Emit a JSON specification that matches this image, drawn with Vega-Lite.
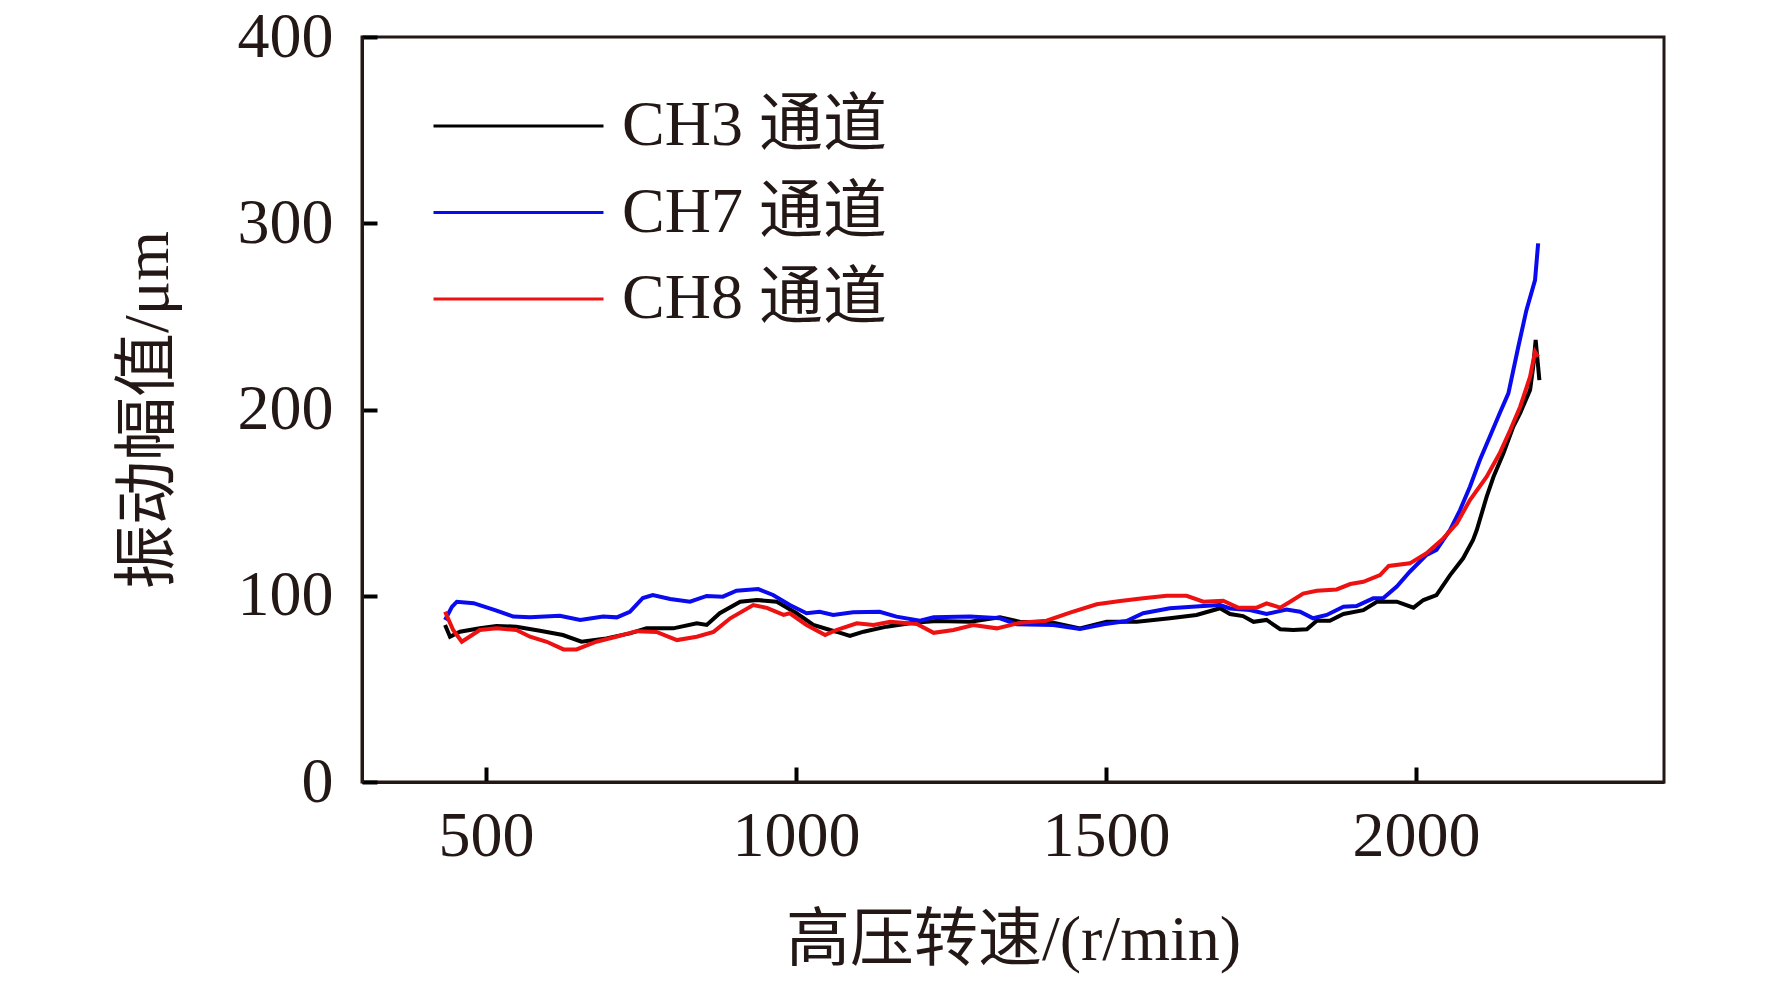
{
  "$schema": "https://vega.github.io/schema/vega-lite/v6.json",
  "autosize": {"type": "none"},
  "padding": {"left": 362, "top": 37, "right": 108, "bottom": 201},
  "width": 1302,
  "height": 745,
  "background": "white",
  "datasets": {
    "ch3": [
      {"rpm": 434, "amp": 84.3}, {"rpm": 442, "amp": 78}, {"rpm": 458, "amp": 80.7}, {"rpm": 490, "amp": 82.5},
      {"rpm": 517, "amp": 83.8}, {"rpm": 549, "amp": 83.4}, {"rpm": 587, "amp": 81.2}, {"rpm": 624, "amp": 78.9},
      {"rpm": 654, "amp": 75.3}, {"rpm": 694, "amp": 77.1}, {"rpm": 732, "amp": 79.8}, {"rpm": 759, "amp": 82.5},
      {"rpm": 802, "amp": 82.5}, {"rpm": 840, "amp": 85.2}, {"rpm": 856, "amp": 84.3}, {"rpm": 877, "amp": 90.6},
      {"rpm": 910, "amp": 96.8}, {"rpm": 937, "amp": 97.7}, {"rpm": 969, "amp": 96.8}, {"rpm": 1001, "amp": 90.6},
      {"rpm": 1028, "amp": 84.3}, {"rpm": 1055, "amp": 81.6}, {"rpm": 1065, "amp": 80.7}, {"rpm": 1087, "amp": 78.4},
      {"rpm": 1109, "amp": 80.7}, {"rpm": 1146, "amp": 83.4}, {"rpm": 1189, "amp": 85.5}, {"rpm": 1227, "amp": 86.4},
      {"rpm": 1281, "amp": 86}, {"rpm": 1329, "amp": 88.4}, {"rpm": 1361, "amp": 86}, {"rpm": 1415, "amp": 85.5},
      {"rpm": 1458, "amp": 82.5}, {"rpm": 1501, "amp": 86}, {"rpm": 1550, "amp": 86}, {"rpm": 1603, "amp": 87.9},
      {"rpm": 1646, "amp": 89.7}, {"rpm": 1684, "amp": 93.3}, {"rpm": 1700, "amp": 90.2}, {"rpm": 1721, "amp": 89.1},
      {"rpm": 1738, "amp": 86}, {"rpm": 1759, "amp": 87}, {"rpm": 1781, "amp": 82}, {"rpm": 1802, "amp": 81.6},
      {"rpm": 1824, "amp": 82}, {"rpm": 1840, "amp": 86.6}, {"rpm": 1861, "amp": 86.6}, {"rpm": 1883, "amp": 90.2},
      {"rpm": 1915, "amp": 92.3}, {"rpm": 1937, "amp": 96.8}, {"rpm": 1969, "amp": 96.8}, {"rpm": 1996, "amp": 93.6},
      {"rpm": 2012, "amp": 97.7}, {"rpm": 2033, "amp": 100.4}, {"rpm": 2055, "amp": 111.1}, {"rpm": 2076, "amp": 120.1},
      {"rpm": 2092, "amp": 130}, {"rpm": 2098, "amp": 135.3}, {"rpm": 2114, "amp": 153.2}, {"rpm": 2125, "amp": 163.9},
      {"rpm": 2141, "amp": 176.5}, {"rpm": 2157, "amp": 190.8}, {"rpm": 2168, "amp": 198}, {"rpm": 2184, "amp": 210.5},
      {"rpm": 2189, "amp": 223}, {"rpm": 2193, "amp": 237.3}, {"rpm": 2199, "amp": 215.8}
    ],
    "ch7": [
      {"rpm": 434, "amp": 87}, {"rpm": 445, "amp": 94}, {"rpm": 453, "amp": 96.8}, {"rpm": 480, "amp": 96},
      {"rpm": 517, "amp": 92}, {"rpm": 544, "amp": 88.8}, {"rpm": 571, "amp": 88.4}, {"rpm": 619, "amp": 89.3},
      {"rpm": 652, "amp": 87}, {"rpm": 689, "amp": 88.8}, {"rpm": 711, "amp": 88.4}, {"rpm": 732, "amp": 91.4},
      {"rpm": 753, "amp": 98.8}, {"rpm": 769, "amp": 100.4}, {"rpm": 797, "amp": 98.3}, {"rpm": 829, "amp": 96.8},
      {"rpm": 856, "amp": 99.9}, {"rpm": 882, "amp": 99.5}, {"rpm": 904, "amp": 102.7}, {"rpm": 939, "amp": 103.6},
      {"rpm": 963, "amp": 100.4}, {"rpm": 990, "amp": 95}, {"rpm": 1017, "amp": 90.6}, {"rpm": 1038, "amp": 91.4},
      {"rpm": 1060, "amp": 89.7}, {"rpm": 1092, "amp": 91.1}, {"rpm": 1135, "amp": 91.4}, {"rpm": 1162, "amp": 88.8},
      {"rpm": 1200, "amp": 86.6}, {"rpm": 1222, "amp": 88.4}, {"rpm": 1281, "amp": 88.8}, {"rpm": 1329, "amp": 87.9},
      {"rpm": 1356, "amp": 84.7}, {"rpm": 1415, "amp": 84.3}, {"rpm": 1458, "amp": 82.1}, {"rpm": 1496, "amp": 84.7},
      {"rpm": 1533, "amp": 86.4}, {"rpm": 1560, "amp": 90.6}, {"rpm": 1603, "amp": 93.3}, {"rpm": 1657, "amp": 94.5},
      {"rpm": 1684, "amp": 95}, {"rpm": 1700, "amp": 93.2}, {"rpm": 1732, "amp": 92.3}, {"rpm": 1759, "amp": 90.2},
      {"rpm": 1791, "amp": 92.6}, {"rpm": 1813, "amp": 91.4}, {"rpm": 1834, "amp": 87.9}, {"rpm": 1856, "amp": 89.7},
      {"rpm": 1883, "amp": 94.1}, {"rpm": 1904, "amp": 94.5}, {"rpm": 1931, "amp": 98.6}, {"rpm": 1947, "amp": 98.6},
      {"rpm": 1969, "amp": 104.9}, {"rpm": 1990, "amp": 112.9}, {"rpm": 2017, "amp": 121.9}, {"rpm": 2033, "amp": 124.6},
      {"rpm": 2044, "amp": 130}, {"rpm": 2055, "amp": 135.3}, {"rpm": 2071, "amp": 146}, {"rpm": 2087, "amp": 158.5},
      {"rpm": 2103, "amp": 172.9}, {"rpm": 2119, "amp": 185.4}, {"rpm": 2135, "amp": 198}, {"rpm": 2149, "amp": 208.7},
      {"rpm": 2165, "amp": 233.7}, {"rpm": 2178, "amp": 253.2}, {"rpm": 2192, "amp": 269.5}, {"rpm": 2197, "amp": 289.2}
    ],
    "ch8": [
      {"rpm": 434, "amp": 91.4}, {"rpm": 447, "amp": 81.6}, {"rpm": 461, "amp": 75.3}, {"rpm": 490, "amp": 81.6},
      {"rpm": 517, "amp": 82.5}, {"rpm": 549, "amp": 81.6}, {"rpm": 571, "amp": 78}, {"rpm": 598, "amp": 75.3},
      {"rpm": 625, "amp": 71.2}, {"rpm": 646, "amp": 71.2}, {"rpm": 678, "amp": 75.3}, {"rpm": 710, "amp": 78},
      {"rpm": 743, "amp": 81}, {"rpm": 775, "amp": 80.6}, {"rpm": 808, "amp": 76.2}, {"rpm": 840, "amp": 78},
      {"rpm": 867, "amp": 80.6}, {"rpm": 894, "amp": 87.9}, {"rpm": 931, "amp": 95}, {"rpm": 953, "amp": 93.5},
      {"rpm": 980, "amp": 89.7}, {"rpm": 990, "amp": 90.6}, {"rpm": 1017, "amp": 84.3}, {"rpm": 1047, "amp": 78.9},
      {"rpm": 1065, "amp": 81.6}, {"rpm": 1098, "amp": 85.2}, {"rpm": 1125, "amp": 84.3}, {"rpm": 1152, "amp": 86},
      {"rpm": 1195, "amp": 84.8}, {"rpm": 1222, "amp": 80.1}, {"rpm": 1254, "amp": 81.6}, {"rpm": 1286, "amp": 84.3},
      {"rpm": 1324, "amp": 82.5}, {"rpm": 1361, "amp": 85.5}, {"rpm": 1404, "amp": 86.6}, {"rpm": 1442, "amp": 90.9},
      {"rpm": 1485, "amp": 95.4}, {"rpm": 1523, "amp": 97.2}, {"rpm": 1560, "amp": 98.6}, {"rpm": 1598, "amp": 100},
      {"rpm": 1630, "amp": 100}, {"rpm": 1657, "amp": 96.8}, {"rpm": 1689, "amp": 97.3}, {"rpm": 1713, "amp": 93.6},
      {"rpm": 1743, "amp": 93.6}, {"rpm": 1759, "amp": 95.9}, {"rpm": 1781, "amp": 93.6}, {"rpm": 1797, "amp": 96.8},
      {"rpm": 1818, "amp": 101.2}, {"rpm": 1840, "amp": 102.7}, {"rpm": 1872, "amp": 103.4}, {"rpm": 1894, "amp": 106.3},
      {"rpm": 1915, "amp": 107.5}, {"rpm": 1942, "amp": 111.1}, {"rpm": 1956, "amp": 116}, {"rpm": 1990, "amp": 117.4},
      {"rpm": 2017, "amp": 122.8}, {"rpm": 2044, "amp": 130.8}, {"rpm": 2066, "amp": 138.9}, {"rpm": 2087, "amp": 151.4},
      {"rpm": 2114, "amp": 163.9}, {"rpm": 2135, "amp": 176.5}, {"rpm": 2152, "amp": 189}, {"rpm": 2168, "amp": 201.5},
      {"rpm": 2184, "amp": 217.6}, {"rpm": 2192, "amp": 231}, {"rpm": 2197, "amp": 228.3}
    ]
  },
  "encoding": {
    "x": {
      "field": "rpm",
      "type": "quantitative",
      "title": "高压转速/(r/min)",
      "scale": {"domain": [300, 2400], "nice": false, "zero": false},
      "axis": {
        "values": [500, 1000, 1500, 2000],
        "format": "d",
        "zindex": 1,
        "tickColor": "black",
        "tickWidth": 4,
        "tickSize": -15,
        "labelPadding": 37,
        "titlePadding": 40
      }
    },
    "y": {
      "field": "amp",
      "type": "quantitative",
      "title": "振动幅值/μm",
      "scale": {"domain": [0, 400], "nice": false},
      "axis": {
        "values": [0, 100, 200, 300, 400],
        "zindex": 1,
        "tickColor": "black",
        "tickWidth": 4,
        "tickSize": -15,
        "labelPadding": 44,
        "titlePadding": 57
      }
    }
  },
  "layer": [
    {
      "data": {"name": "ch3"},
      "mark": {"type": "line", "strokeWidth": 4},
      "encoding": {"color": {"datum": "CH3 通道", "type": "nominal"}}
    },
    {
      "data": {"name": "ch7"},
      "mark": {"type": "line", "strokeWidth": 4},
      "encoding": {"color": {"datum": "CH7 通道", "type": "nominal"}}
    },
    {
      "data": {"name": "ch8"},
      "mark": {"type": "line", "strokeWidth": 4},
      "encoding": {
        "color": {
          "datum": "CH8 通道",
          "type": "nominal",
          "scale": {"domain": ["CH3 通道", "CH7 通道", "CH8 通道"], "range": ["#000000", "#0a0aee", "#ee1111"]},
          "legend": {
            "title": null,
            "orient": "none",
            "legendX": 70,
            "legendY": 57,
            "padding": 0,
            "symbolType": "stroke",
            "symbolSize": 28900,
            "symbolStrokeWidth": 3,
            "clipHeight": 64,
            "rowPadding": 22.5,
            "labelOffset": 17,
            "labelFontSize": 64,
            "labelFont": "'Liberation Serif','Noto Sans CJK SC',serif",
            "labelColor": "#231815",
            "labelLimit": 0,
            "encode": {
              "symbols": {
                "update": {
                  "stroke": {"signal": "datum.value === 'CH3 通道' ? '#10105a' : scale('color', datum.value)"}
                }
              }
            }
          }
        }
      }
    }
  ],
  "config": {
    "font": "'Liberation Serif','Noto Sans CJK SC',serif",
    "view": {"stroke": "#231815", "strokeWidth": 3},
    "axis": {
      "grid": false,
      "domainColor": "#231815",
      "domainWidth": 3,
      "labelFont": "'Liberation Serif','Noto Sans CJK SC',serif",
      "labelFontSize": 64,
      "labelColor": "#231815",
      "titleFont": "'Liberation Serif','Noto Sans CJK SC',serif",
      "titleFontSize": 64,
      "titleFontWeight": "normal",
      "titleColor": "#231815"
    }
  }
}
